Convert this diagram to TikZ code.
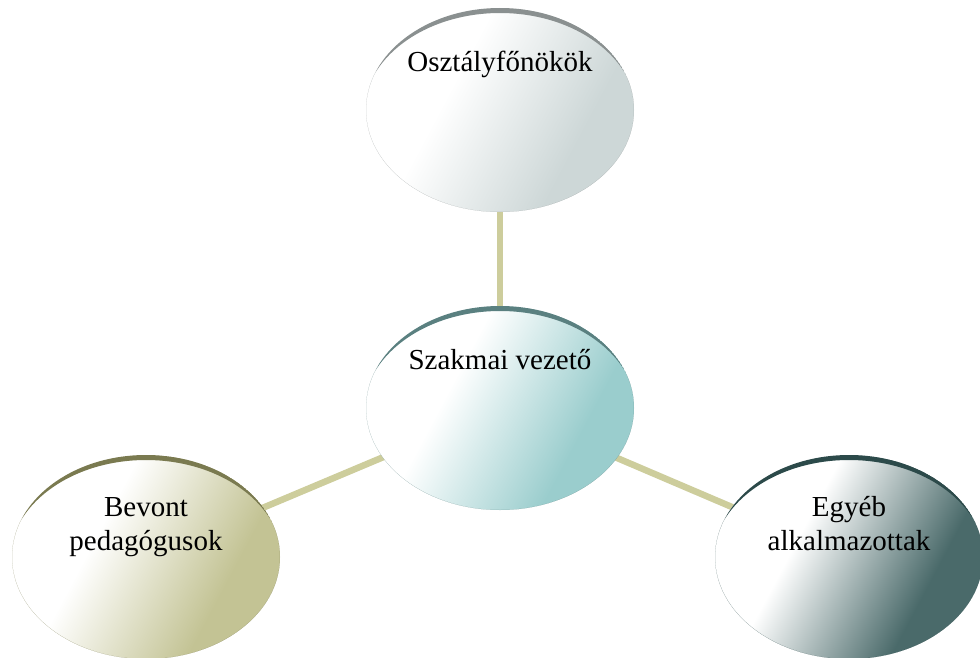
\documentclass[tikz,border=0pt]{standalone}
\usepackage{fontspec}
\setmainfont{Liberation Serif}
\usetikzlibrary{shapes.geometric,backgrounds}
\definecolor{topEnd}{HTML}{CDD7D7}
\definecolor{midEnd}{HTML}{9ACDCD}
\definecolor{leftEnd}{HTML}{C3C394}
\definecolor{rightEnd}{HTML}{4A6A6A}
\definecolor{topRim}{HTML}{8A9090}
\definecolor{midRim}{HTML}{5A8080}
\definecolor{leftRim}{HTML}{7A7A50}
\definecolor{rightRim}{HTML}{2C4A4A}
\definecolor{connC}{HTML}{CDCD9C}
\pgfdeclarehorizontalshading{shTop}{100bp}{color(0bp)=(white); color(39bp)=(white); color(67bp)=(topEnd); color(100bp)=(topEnd)}
\pgfdeclarehorizontalshading{shMid}{100bp}{color(0bp)=(white); color(39bp)=(white); color(67bp)=(midEnd); color(100bp)=(midEnd)}
\pgfdeclarehorizontalshading{shLeft}{100bp}{color(0bp)=(white); color(39bp)=(white); color(67bp)=(leftEnd); color(100bp)=(leftEnd)}
\pgfdeclarehorizontalshading{shRight}{100bp}{color(0bp)=(white); color(39bp)=(white); color(67bp)=(rightEnd); color(100bp)=(rightEnd)}
\tikzset{
  bubble/.style 2 args={ellipse, minimum width=268pt, minimum height=204pt,
    inner sep=0pt, outer sep=0pt, shade, shading=#1, shading angle=-28,
    path picture={
      \fill[#2, even odd rule]
        (path picture bounding box.center) ellipse [x radius=134pt, y radius=102pt]
        ([yshift=-5pt]path picture bounding box.center) ellipse [x radius=137pt, y radius=102pt];
    }},
  lbl/.style={font=\fontsize{29}{34}\selectfont, align=center, inner sep=0pt, anchor=base},
  conn/.style={draw=connC, line width=6.5pt}
}
\begin{document}
\begin{tikzpicture}[x=1pt,y=-1pt]
\useasboundingbox (0,0) rectangle (980,658);
\clip (0,0) rectangle (980,658);
\node[bubble={shTop}{topRim}] (top) at (500,110) {};
\node[bubble={shMid}{midRim}] (mid) at (500,408) {};
\node[bubble={shLeft}{leftRim}] (left) at (146,557) {};
\node[bubble={shRight}{rightRim}] (right) at (849,557) {};
\node[lbl] (ttop) at (500,72) {Osztályfőnökök};
\node[lbl] (tmid) at (500,369) {Szakmai vezető};
\node[lbl] (tleft) at (146,550) {Bevont\\pedagógusok};
\node[lbl] (tright) at (849,550) {Egyéb\\alkalmazottak};
\begin{pgfonlayer}{background}
\draw[conn] (top.center) -- (mid.center);
\draw[conn] (mid.center) -- (left.center);
\draw[conn] (mid.center) -- (right.center);
\end{pgfonlayer}
\end{tikzpicture}
\end{document}
